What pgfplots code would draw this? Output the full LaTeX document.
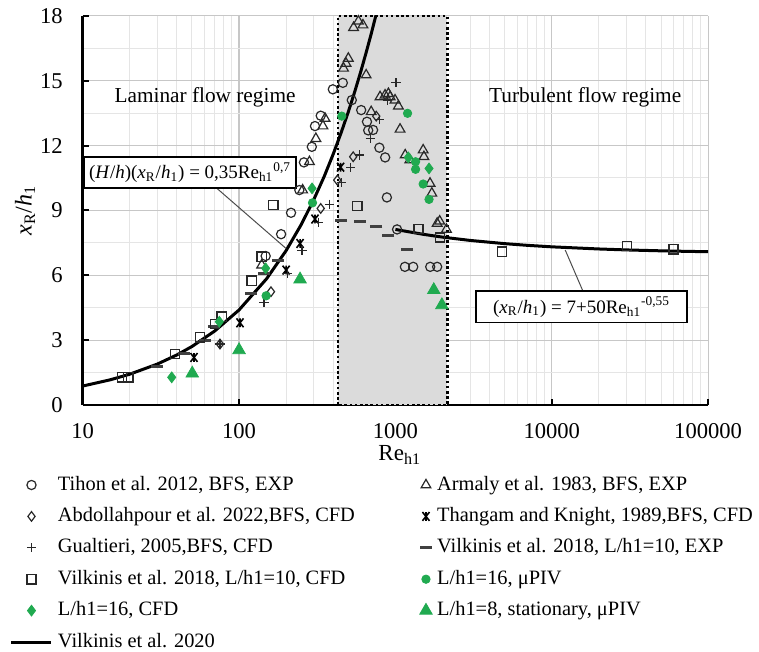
\documentclass[border=0pt]{standalone}
\usepackage{pgfplots}
\pgfplotsset{compat=1.18}
\usepackage{fontspec}
\setmainfont{Liberation Serif}
\definecolor{pgreen}{RGB}{32,170,80}
\definecolor{mk}{RGB}{40,40,40}
\pgfdeclareplotmark{xstar}{%
  \pgfpathmoveto{\pgfqpoint{-0.8\pgfplotmarksize}{-\pgfplotmarksize}}%
  \pgfpathlineto{\pgfqpoint{0.8\pgfplotmarksize}{\pgfplotmarksize}}%
  \pgfpathmoveto{\pgfqpoint{-0.8\pgfplotmarksize}{\pgfplotmarksize}}%
  \pgfpathlineto{\pgfqpoint{0.8\pgfplotmarksize}{-\pgfplotmarksize}}%
  \pgfpathmoveto{\pgfqpoint{0pt}{-\pgfplotmarksize}}%
  \pgfpathlineto{\pgfqpoint{0pt}{\pgfplotmarksize}}%
  \pgfusepathqstroke}
\begin{document}
\begin{tikzpicture}
\useasboundingbox (-41.35pt,-123.5pt) rectangle (338.15pt,202.5pt);
\begin{axis}[
  at={(0pt,0pt)}, anchor=south west,
  scale only axis, width=312.7pt, height=194.6pt,
  xmode=log, xmin=10, xmax=100000, ymin=0, ymax=18,
  xtick={10,100,1000,10000,100000},
  xticklabels={10,100,1000,10000,100000},
  ytick={0,3,6,9,12,15,18},
  yticklabels={0,3,6,9,12,15,18},
  minor ytick={1.5,4.5,7.5,10.5,13.5,16.5},
  grid=both,
  major grid style={black!22, line width=0.6pt},
  minor grid style={black!10, line width=0.5pt},
  axis x line*=bottom, axis y line*=left,
  axis line style={-, line width=1.35pt, black},
  tick align=inside, major tick length=3pt, minor tick length=0pt,
  major tick style={black, line width=1pt},
  ticklabel style={font=\fontsize{11.3}{13}\selectfont},
  xticklabel style={yshift=-5.5pt},
  yticklabel style={xshift=-6.5pt},
  xlabel={Re\textsubscript{h1}},
  every axis x label/.style={at={(axis description cs:0.507,-0.1285)}, anchor=center, font=\fontsize{11.5}{13}\selectfont},
  ylabel={\textit{x}\textsubscript{R}/\textit{h}\textsubscript{1}},
  every axis y label/.style={at={(axis description cs:-0.0923,0.5)}, rotate=90, anchor=center, font=\fontsize{12}{14}\selectfont},
  legend image code/.code={\draw[mark repeat=2,mark phase=2,#1] plot coordinates {(0pt,0pt)(10pt,0pt)(20pt,0pt)};},
  legend columns=2,
  legend cell align=left,
  legend style={at={(0,0)}, anchor=north west, xshift=-36.35pt, yshift=-34.5pt,
    draw=none, fill=none, inner sep=0pt, outer sep=0pt, row sep=4.7pt,
    font=\fontsize{10.2}{12}\selectfont,
    nodes={inner sep=0pt, text height=8pt, text depth=3pt},
    /tikz/every odd column/.append style={column sep=2.5pt},
    /tikz/every even column/.append style={column sep=32.4pt}},
]
% transition region
\addplot[forget plot, draw=black, line width=1.3pt, dash pattern=on 1.3pt off 1.3pt, fill=black!14]
  coordinates {(430,0) (430,18) (2150,18) (2150,0)} -- cycle;

% Tihon
\addplot[only marks, mark=o, mark size=2.3pt, mk, mark options={line width=0.6pt}] table {
185.8 7.9
215 8.89
148 6.89
243 9.94
260 11.22
292 11.94
306 12.9
333 13.38
398 14.6
461 14.9
526 14.1
604 13.64
658 13.1
670 12.7
720 12.72
790 11.9
860 11.45
882 9.6
1025 8.12
1150 6.39
1300 6.39
1670 6.39
1850 6.39
};
\addlegendentry{Tihon et al. 2012, BFS, EXP}
% Armaly
\addplot[only marks, mark=triangle, mark size=2.8pt, mk, mark options={line width=0.6pt}] table {
139.6 6.47
255 9.94
282 11.25
310 12.32
344 12.9
355 13.25
466 15.57
483 15.8
500 16.03
650 15.26
540 17.45
580 17.75
620 17.57
700 13.56
798 14.25
859 14.33
902 14.4
925 14.25
995 14.1
1045 13.82
1071 12.75
1155 11.56
1237 11.33
1505 11.79
1522 11.48
1665 10.25
1710 9.79
1850 8.4
1920 8.5
2120 8.12
};
\addlegendentry{Armaly et al. 1983, BFS, EXP}
% Abdollahpour
\addplot[only marks, mark=diamond, mark size=2.4pt, mk, mark options={line width=0.6pt}] table {
75.5 2.82
160 5.24
333 9.09
425 10.4
537 11.48
754 13.36
};
\addlegendentry{Abdollahpour et al. 2022,BFS, CFD}
% Thangam
\addplot[only marks, mark=xstar, mark size=2.2pt, black, mark options={line width=0.8pt}] table {
51.5 2.2
101.4 3.8
200 6.24
245.6 7.47
306 8.6
446 11.0
};
\addlegendentry{Thangam and Knight, 1989,BFS, CFD}
% Gualtieri
\addplot[only marks, mark=+, mark size=2.3pt, mk, mark options={line width=0.6pt}] table {
75.5 2.82
144.5 4.73
205 6.1
253 7.13
324 8.45
379 9.28
450 10.28
517 11.0
592 11.56
690 12.33
795 13.2
890 14.1
1009 14.9
};
\addlegendentry{Gualtieri, 2005,BFS, CFD}
% Vilkinis EXP
\addplot[only marks, mark=-, mark size=3pt, black!75, mark options={line width=1.5pt}] table {
29.7 1.77
44.5 2.39
60.5 3.0
69 3.65
119 5.16
145 6.09
178 6.7
446 8.55
593 8.5
755 8.24
902 7.83
1186 7.17
};
\addlegendentry{Vilkinis et al. 2018, L/h1=10, EXP}
% Vilkinis CFD
\addplot[only marks, mark=square, mark size=2.3pt, mk, mark options={line width=0.7pt}] table {
17.8 1.28
19.6 1.28
38.9 2.36
56.2 3.13
70.2 3.74
77.4 4.08
120.5 5.75
139.6 6.86
165.5 9.25
570 9.21
1406 8.14
1930 7.75
4800 7.09
30200 7.35
60100 7.2
};
\addlegendentry{Vilkinis et al. 2018, L/h1=10, CFD}
% L/h1=16 uPIV
\addplot[only marks, mark=*, mark size=2.1pt, pgreen] table {
149 5.05
295 9.35
454 13.36
1196 13.49
1346 11.25
1346 10.9
1505 10.22
1641 9.51
};
\addlegendentry{L/h1=16, μPIV}
% L/h1=16 CFD
\addplot[only marks, mark=diamond*, mark size=2.7pt, pgreen] table {
37.1 1.28
74.8 3.85
148 6.32
293 10.02
1210 11.45
1641 10.94
};
\addlegendentry{L/h1=16, CFD}
% L/h1=8 stationary
\addplot[only marks, mark=triangle*, mark size=3.6pt, pgreen] table {
50.2 1.46
100 2.54
245.6 5.81
1760 5.32
1983 4.62
};
\addlegendentry{L/h1=8,\ stationary, μPIV}
% Vilkinis 2020 laminar correlation
\addplot[black, line width=1.5pt, no marks] table {
10 0.877
15 1.165
20 1.425
30 1.892
40 2.315
50 2.706
70 3.425
100 4.396
150 5.838
200 7.140
250 8.348
300 9.485
350 10.56
400 11.60
450 12.60
500 13.56
550 14.50
600 15.41
650 16.30
700 17.16
750 18.01
};
\addlegendentry{Vilkinis et al. 2020}
% turbulent correlation
\addplot[forget plot, black, line width=1.5pt, no marks] table {
1000 8.119
1500 7.896
2000 7.764
3000 7.612
5000 7.462
7000 7.384
10000 7.315
20000 7.216
30000 7.172
50000 7.130
70000 7.108
100000 7.089
};

% annotations
\draw[black!70, line width=0.5pt] (axis cs:71.9,10.03) -- (axis cs:199.8,7.24);
\draw[black!70, line width=0.5pt] (axis cs:12190,7.17) -- (axis cs:15820,5.27);
\node[draw=black, line width=0.75pt, fill=white, minimum width=106pt, minimum height=15.5pt, inner sep=0pt, font=\fontsize{9.5}{11}\selectfont]
  at (axis cs:48.6,10.75) {(\textit{H}/\textit{h})(\textit{x}\textsubscript{R}/\textit{h}\textsubscript{1}) = 0,35Re\textsubscript{h1}\textsuperscript{0,7}};
\node[draw=black, line width=0.75pt, fill=white, minimum width=105.7pt, minimum height=15.8pt, inner sep=0pt, font=\fontsize{9.5}{11}\selectfont]
  at (axis cs:15490,4.54) {(\textit{x}\textsubscript{R}/\textit{h}\textsubscript{1}) = 7+50Re\textsubscript{h1}\textsuperscript{-0,55}};
\node[font=\fontsize{10.65}{12}\selectfont] at (axis cs:60.6,14.24) {Laminar flow regime};
\node[font=\fontsize{10.65}{12}\selectfont] at (axis cs:16370,14.24) {Turbulent flow regime};
\end{axis}
\end{tikzpicture}
\end{document}
